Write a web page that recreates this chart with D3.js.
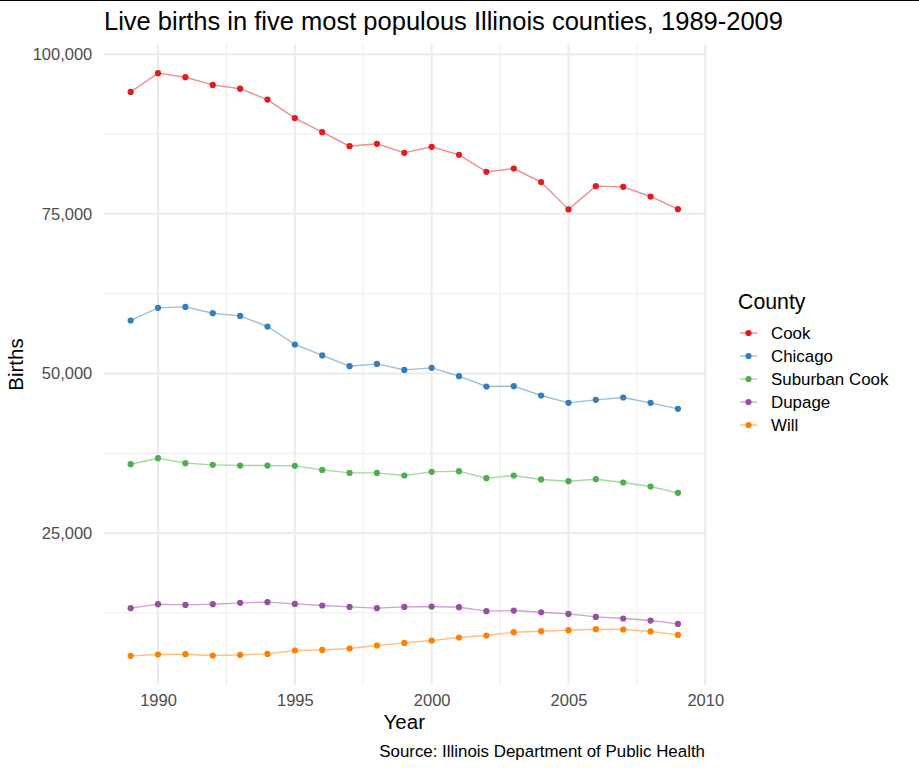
<!DOCTYPE html>
<html>
<head>
<meta charset="utf-8">
<script src="https://cdn.jsdelivr.net/npm/d3@7"></script>
<style>
html,body{margin:0;padding:0;background:#fff;}
svg{display:block;font-family:"Liberation Sans",Arial,sans-serif;}
</style>
</head>
<body>
<svg id="chart" width="919" height="770"></svg>
<script>
const years = d3.range(1989, 2010);
const counties = ["Cook", "Chicago", "Suburban Cook", "Dupage", "Will"];
const colors = ["#E41A1C", "#377EB8", "#4DAF4A", "#984EA3", "#FF7F00"];
const cook = [94100, 97040, 96400, 95200, 94600, 92900, 90000, 87800, 85600, 85970, 84560,
              85500, 84240, 81580, 82100, 79970, 75700, 79340, 79230, 77720, 75740];
const chicago = [58300, 60280, 60430, 59440, 59020, 57360, 54540, 52820, 51140, 51500, 50560,
                 50880, 49580, 47960, 48010, 46550, 45400, 45870, 46240, 45400, 44460];
const suburbanCook = [35790, 36730, 35950, 35690, 35580, 35580, 35530, 34900, 34430, 34430, 34020,
                      34590, 34700, 33600, 34020, 33400, 33130, 33440, 32920, 32300, 31300];
const dupage = [13240, 13860, 13750, 13860, 14070, 14180, 13910, 13660, 13440, 13240, 13440,
                13500, 13390, 12770, 12870, 12600, 12340, 11870, 11620, 11300, 10780];
const will = [5770, 5980, 6030, 5830, 5920, 6080, 6610, 6700, 6920, 7390, 7800,
              8180, 8650, 8960, 9480, 9630, 9790, 9950, 9900, 9590, 9050];
const seriesValues = [cook, chicago, suburbanCook, dupage, will];
const xTicks = [1990, 1995, 2000, 2005, 2010];
const xMinor = [1992.5, 1997.5, 2002.5, 2007.5];
const yTicks = [25000, 50000, 75000, 100000];
const yMinor = [12500, 37500, 62500, 87500];

const svg = d3.select("#chart");
const panel = {left: 103.3, right: 705.3, top: 44, bottom: 685};

// top border line
svg.append("line").attr("x1", 0).attr("x2", 919).attr("y1", 0.5).attr("y2", 0.5)
  .attr("stroke", "#000").attr("stroke-width", 1);

const x = d3.scaleLinear().domain([1988, 2010]).range([panel.left, panel.right]);
const allVals = seriesValues.flat();
const lo = d3.min(allVals), hi = d3.max(allVals), pad = (hi - lo) * 0.05;
const y = d3.scaleLinear().domain([lo - pad, hi + pad]).range([panel.bottom, panel.top]);

const grid = svg.append("g");
grid.selectAll(".xmin").data(xMinor).join("line")
  .attr("x1", d => x(d)).attr("x2", d => x(d)).attr("y1", panel.top).attr("y2", panel.bottom)
  .attr("stroke", "#ebebeb").attr("stroke-width", 1);
grid.selectAll(".ymin").data(yMinor).join("line")
  .attr("y1", d => y(d)).attr("y2", d => y(d)).attr("x1", panel.left).attr("x2", panel.right)
  .attr("stroke", "#ebebeb").attr("stroke-width", 1);
grid.selectAll(".xmaj").data(xTicks).join("line")
  .attr("x1", d => x(d)).attr("x2", d => x(d)).attr("y1", panel.top).attr("y2", panel.bottom)
  .attr("stroke", "#ebebeb").attr("stroke-width", 2);
grid.selectAll(".ymaj").data(yTicks).join("line")
  .attr("y1", d => y(d)).attr("y2", d => y(d)).attr("x1", panel.left).attr("x2", panel.right)
  .attr("stroke", "#ebebeb").attr("stroke-width", 2);

// axes via d3 axes
const fmt = d3.format(",");
const yAxis = svg.append("g").attr("transform", `translate(${panel.left},0)`)
  .call(d3.axisLeft(y).tickValues(yTicks).tickFormat(fmt).tickSize(0).tickPadding(11));
const xAxis = svg.append("g").attr("transform", `translate(0,${panel.bottom})`)
  .call(d3.axisBottom(x).tickValues(xTicks).tickFormat(d3.format("d")).tickSize(0).tickPadding(9));
[yAxis, xAxis].forEach(a => {
  a.select(".domain").remove();
  a.selectAll("text").attr("fill", "#4d4d4d").style("font-size", "16.5px")
    .style("font-family", "'Liberation Sans', Arial, sans-serif");
});

// series
const line = d3.line().x((d, i) => x(years[i])).y(d => y(d));
counties.forEach((c, k) => {
  const g = svg.append("g");
  g.append("path").datum(seriesValues[k]).attr("d", line)
    .attr("fill", "none").attr("stroke", colors[k]).attr("stroke-width", 1.4).attr("stroke-opacity", 0.5);
  g.selectAll("circle").data(seriesValues[k]).join("circle")
    .attr("cx", (d, i) => x(years[i])).attr("cy", d => y(d)).attr("r", 3.1).attr("fill", colors[k]);
});

// title
svg.append("text").attr("x", 104).attr("y", 29.5).text("Live births in five most populous Illinois counties, 1989-2009")
  .attr("fill", "#000").style("font-size", "25.5px");
// axis titles
svg.append("text").attr("x", (panel.left + panel.right) / 2).attr("y", 729).attr("text-anchor", "middle")
  .text("Year").style("font-size", "20.5px").attr("fill", "#000");
svg.append("text").attr("transform", `translate(23,${(panel.top + panel.bottom) / 2}) rotate(-90)`)
  .attr("text-anchor", "middle").text("Births").style("font-size", "20.5px").attr("fill", "#000");
// caption
svg.append("text").attr("x", 705).attr("y", 757).attr("text-anchor", "end")
  .text("Source: Illinois Department of Public Health").style("font-size", "16.9px").attr("fill", "#000");

// legend
const leg = svg.append("g").attr("transform", "translate(738,0)");
leg.append("text").attr("x", 0).attr("y", 309).text("County").style("font-size", "21.3px").attr("fill", "#000");
counties.forEach((c, k) => {
  const cy = 333 + k * 23;
  leg.append("line").attr("x1", 2).attr("x2", 19).attr("y1", cy).attr("y2", cy)
    .attr("stroke", colors[k]).attr("stroke-width", 1.4).attr("stroke-opacity", 0.5);
  leg.append("circle").attr("cx", 10.5).attr("cy", cy).attr("r", 3.1).attr("fill", colors[k]);
  leg.append("text").attr("x", 33).attr("y", cy + 5.8).text(c).style("font-size", "16.9px").attr("fill", "#000");
});
</script>
</body>
</html>
